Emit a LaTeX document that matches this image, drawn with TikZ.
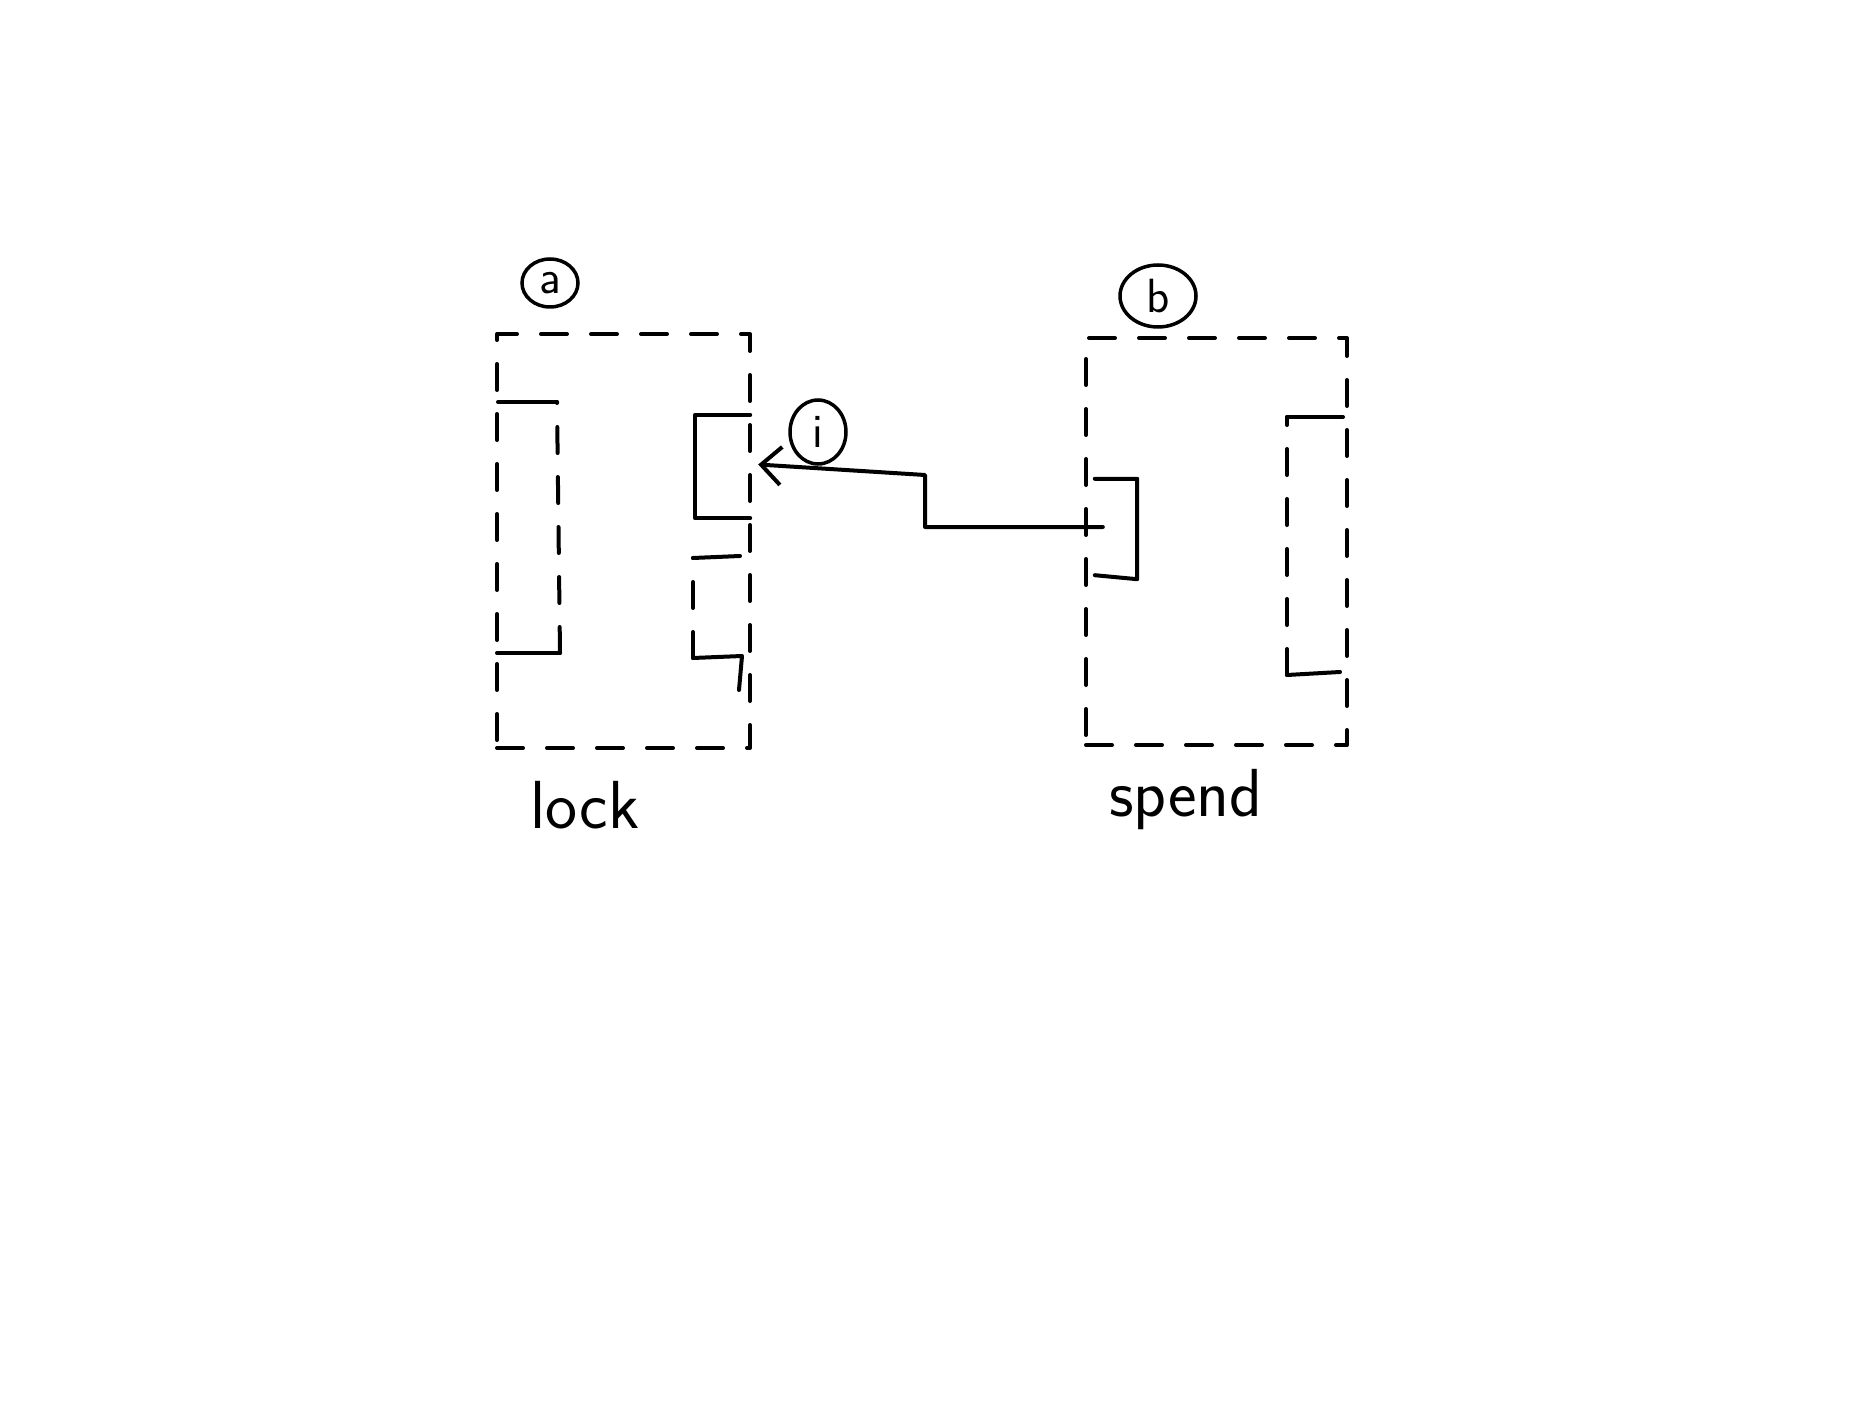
\documentclass[tikz,border=0pt]{standalone}
\usetikzlibrary{arrows.meta,shapes.geometric}
\begin{document}
\begin{tikzpicture}[x=1pt,y=-1pt,
  hand/.style={line width=4pt, line cap=round, line join=round},
  dsh/.style={hand, dash pattern=on 26pt off 24pt},
  outerbox/.style={dsh, draw, rectangle, inner sep=0pt},
  port/.style={rectangle, inner sep=0pt, draw=none},
  tag/.style={draw, ellipse, line width=3.5pt, inner sep=0pt, font=\sffamily\fontsize{48}{48}\selectfont},
  lbl/.style={font=\sffamily\fontsize{68}{68}\selectfont, anchor=base},
  barb/.style={-{Straight Barb[length=20pt,width=38pt,line width=4pt]}}
]
\useasboundingbox (0,0) rectangle (1872,1404);

% outer dashed boxes
\node[outerbox, minimum width=253pt, minimum height=414pt] (boxA) at (623.5,541) {};
\node[outerbox, minimum width=261pt, minimum height=407pt] (boxB) at (1216.5,541.5) {};

% solid port in box a
\node[port, minimum width=55pt, minimum height=103pt] (portA) at (722.5,466.5) {};
\draw[hand] (portA.north east) -- (portA.north west) -- (portA.south west) -- (portA.south east);

% left bracket in box a
\coordinate (aLtop) at (498,402);
\coordinate (aLtr) at (557,402);
\coordinate (aLbr) at (560,653);
\coordinate (aLbot) at (497,653);
\draw[hand] (aLtop) -- (aLtr);
\draw[dsh] (aLbr) -- (aLtr);
\draw[hand] (aLbot) -- (aLbr);

% lower dashed bracket in box a
\coordinate (aDtr) at (740,556);
\coordinate (aDtl) at (693,558);
\coordinate (aDbl) at (693,658);
\coordinate (aDbr) at (742,656);
\coordinate (aDend) at (739,690);
\draw[hand] (aDtr) -- (aDtl);
\draw[dsh] (aDbl) -- (aDtl);
\draw[hand] (aDbl) -- (aDbr) -- (aDend);

% bracket in box b (left)
\node[port, minimum width=51pt, minimum height=100pt] (portB) at (1111.5,529) {};
\draw[hand] ([xshift=9pt]portB.north west) -- (portB.north east) -- (portB.south east) -- ([xshift=9pt,yshift=4pt]portB.south west);

% right dashed bracket in box b
\coordinate (bRtl) at (1287,417);
\coordinate (bRtr) at (1343,417);
\coordinate (bRbl) at (1287,675);
\coordinate (bRbr) at (1340,672);
\draw[hand] (bRtl) -- (bRtr);
\draw[dsh] (bRbl) -- (bRtl);
\draw[hand] (bRbl) -- (bRbr);

% connector
\coordinate (src) at ([xshift=17pt,yshift=2pt]portB.west);
\coordinate (dst) at ([xshift=8pt,yshift=2pt]portA.east);
\coordinate (bend) at (925,475);
\draw[hand, barb] (src) -- (src -| bend) -- (bend) -- (dst);

% circled tags
\node[tag, minimum width=56pt, minimum height=48pt] (tagA) at (550,283) {a};
\node[tag, minimum width=76pt, minimum height=62pt] (tagB) at (1158,296) {b};
\node[tag, minimum width=56pt, minimum height=64pt] (tagI) at (818,432) {i};

% labels
\node[lbl] (lock) at (585,828) {lock};
\node[lbl] (spend) at (1186,816) {spend};
\end{tikzpicture}
\end{document}
